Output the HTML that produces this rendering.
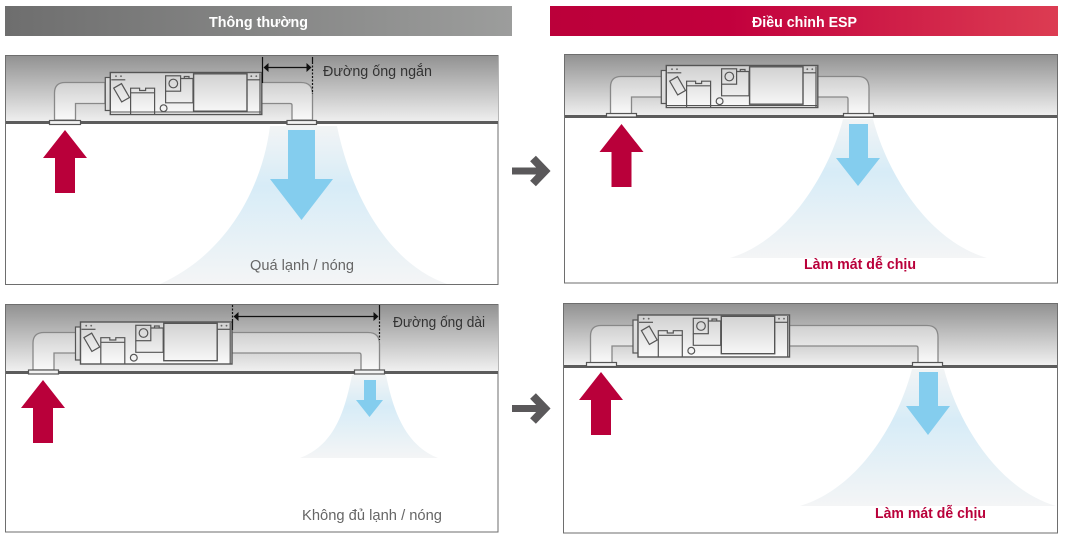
<!DOCTYPE html>
<html><head><meta charset="utf-8"><style>
html,body{margin:0;padding:0;background:#fff;width:1065px;height:543px;overflow:hidden}
svg{display:block}
text{font-family:"Liberation Sans","DejaVu Sans",sans-serif}
</style></head><body>
<svg width="1065" height="543" viewBox="0 0 1065 543" xmlns="http://www.w3.org/2000/svg">
<defs>
<linearGradient id="hg"><stop offset="0" stop-color="#6e6e6e"/><stop offset="1" stop-color="#9c9d9c"/></linearGradient>
<linearGradient id="hr"><stop offset="0" stop-color="#bb003a"/><stop offset=".35" stop-color="#c2003d"/><stop offset="1" stop-color="#dc3c52"/></linearGradient>
<linearGradient id="ceil" x1="0" y1="0" x2="0" y2="1"><stop offset="0" stop-color="#929292"/><stop offset="1" stop-color="#f0f0f0"/></linearGradient>
<linearGradient id="duct" x1="0" y1="0" x2="0" y2="1"><stop offset="0" stop-color="#d0d0d0"/><stop offset="1" stop-color="#fafafa"/></linearGradient>
<linearGradient id="fan" x1="0" y1="0" x2="0" y2="1"><stop offset="0" stop-color="#f2f4f5"/><stop offset=".38" stop-color="#d7ecf7"/><stop offset="1" stop-color="#f4f5f6"/></linearGradient>
<g id="unit" fill="none" stroke="#555" stroke-width="1.2">
<rect x="-5" y="5" width="5" height="33" fill="#ddd"/>
<rect x="0" y="0" width="151.5" height="42" fill="url(#duct)" stroke-width="1.4"/>
<path d="M1,7.3H15"/>
<circle cx="5.7" cy="3.7" r=".9" fill="#666" stroke="none"/><circle cx="10.7" cy="3.7" r=".9" fill="#666" stroke="none"/>
<rect x="-4.5" y="-8" width="9" height="16" transform="translate(11.3 20.3) rotate(-30)"/>
<path d="M20.3,42V15.7H29.3V18H35.3V15.7H44.3V42M20.3,20.3H44.3"/>
<circle cx="53.3" cy="35.7" r="3.4"/>
<rect x="55.3" y="3.3" width="15" height="15.4"/>
<circle cx="63" cy="11" r="4.3"/>
<path d="M70.3,6H82.7V30.3H55.3V18.7M74,6V4H78.7V6"/>
<rect x="83.3" y="1.3" width="53.4" height="37.4" stroke-width="1.4"/>
<path d="M136.7,7.3H150"/>
<path d="M149.7,1V42" />
<circle cx="141" cy="3.7" r=".9" fill="#666" stroke="none"/><circle cx="146" cy="3.7" r=".9" fill="#666" stroke="none"/>
</g>
<path id="up" d="M22,0L44,28H32V63H12V28H0Z" fill="#b9003a"/>
<g id="go" fill="none" stroke="#5a585a"><path d="M0,0H32" stroke-width="7"/><path d="M21,-12.5L33,0L21,12.5" stroke-width="8"/></g>
</defs>

<!-- headers -->
<rect x="5" y="6" width="507" height="30" fill="url(#hg)"/>
<rect x="550" y="6" width="508" height="30" fill="url(#hr)"/>
<text x="209" y="27" font-size="15" font-weight="700" fill="#fff" textLength="99" lengthAdjust="spacingAndGlyphs">Thông thường</text>
<text x="752" y="27" font-size="15" font-weight="700" fill="#fff" textLength="105" lengthAdjust="spacingAndGlyphs">Điều chỉnh ESP</text>

<!-- panel 1 -->
<rect x="5.5" y="55.5" width="492.5" height="229" fill="#fff" stroke="#6e6e6e"/>
<rect x="6" y="56" width="492" height="66" fill="url(#ceil)"/>
<path d="M270,126C262,190 225,255 160,284H447C385,262 350,190 337,126Z" fill="url(#fan)"/>
<path d="M54.5,120V93Q54.5,82.5 65,82.5H105V103.5H75.5V120Z" fill="url(#duct)" stroke="#888" stroke-width="1.3"/>
<path d="M261,82.5H301Q312.5,82.5 312.5,94V120H292V105Q292,103.5 290,103.5H261Z" fill="url(#duct)" stroke="#888" stroke-width="1.3"/>
<use href="#unit" x="110.3" y="72.5"/><path d="M111,112H261" stroke="#555"/>
<rect x="6" y="121" width="492" height="3" fill="#5c5c5c"/>
<rect x="49.5" y="120.5" width="31" height="4" fill="#f2f2f2" stroke="#555" stroke-width="1.2"/>
<rect x="287" y="120.5" width="29.5" height="4" fill="#f2f2f2" stroke="#555" stroke-width="1.2"/>
<use href="#up" x="43" y="130"/>
<path d="M288,130H315V179H333L301.5,220L270,179H288Z" fill="#84cdee"/>
<path d="M262.5,57V83M312.5,57V62" stroke="#111" stroke-width="1.2"/>
<path d="M312.5,62V94" stroke="#111" stroke-width="1.2" stroke-dasharray="2 1.5"/>
<path d="M266,67.5H309" stroke="#111" stroke-width="1.2"/>
<path d="M263.5,67.5L268.5,63V72ZM311.5,67.5L306.5,63V72Z" fill="#111"/>
<text x="323" y="76" font-size="15" fill="#333" textLength="109" lengthAdjust="spacingAndGlyphs">Đường ống ngắn</text>
<text x="250" y="270" font-size="15" fill="#666" textLength="104" lengthAdjust="spacingAndGlyphs">Quá lạnh / nóng</text>

<!-- panel 2 -->
<rect x="5.5" y="304.5" width="492.5" height="227.5" fill="#fff" stroke="#6e6e6e"/>
<rect x="6" y="305" width="492" height="66" fill="url(#ceil)"/>
<path d="M352,375C345,410 335,445 300,458H438C405,445 393,410 386,375Z" fill="url(#fan)"/>
<path d="M33,370V343Q33,332.5 44,332.5H76V353H54V370Z" fill="url(#duct)" stroke="#888" stroke-width="1.3"/>
<path d="M232,332.5H368Q379.5,332.5 379.5,344V370H361V355Q361,353 359,353H232Z" fill="url(#duct)" stroke="#888" stroke-width="1.3"/>
<use href="#unit" x="80.5" y="322"/>
<rect x="6" y="371" width="492" height="3" fill="#5c5c5c"/>
<rect x="28.5" y="370" width="30" height="4" fill="#f2f2f2" stroke="#555" stroke-width="1.2"/>
<rect x="354.5" y="370" width="30" height="4" fill="#f2f2f2" stroke="#555" stroke-width="1.2"/>
<use href="#up" x="21" y="380"/>
<path d="M364,380H376V400H383L369.5,417L356,400H364Z" fill="#84cdee"/>
<path d="M232.5,305V320M379.5,318V340" stroke="#111" stroke-width="1.2" stroke-dasharray="2 1.5"/>
<path d="M232.5,320V330M379.5,305V318" stroke="#111" stroke-width="1.2"/>
<path d="M236,316.5H376" stroke="#111" stroke-width="1.2"/>
<path d="M233.5,316.5L238.5,312V321ZM378.5,316.5L373.5,312V321Z" fill="#111"/>
<text x="393" y="327" font-size="15" fill="#333" textLength="92" lengthAdjust="spacingAndGlyphs">Đường ống dài</text>
<text x="302" y="520" font-size="15" fill="#666" textLength="140" lengthAdjust="spacingAndGlyphs">Không đủ lạnh / nóng</text>

<!-- panel 3 -->
<rect x="564.5" y="54.5" width="493" height="228.5" fill="#fff" stroke="#6e6e6e"/>
<rect x="565" y="55" width="492" height="61" fill="url(#ceil)"/>
<path d="M843,119C830,170 790,240 730,258H987C926,240 886,170 873,119Z" fill="url(#fan)"/>
<path d="M610.5,114V87Q610.5,76.5 621,76.5H662V97H631.5V114Z" fill="url(#duct)" stroke="#888" stroke-width="1.3"/>
<path d="M817,76.5H858Q869,76.5 869,88V114H848V99Q848,97 846,97H817Z" fill="url(#duct)" stroke="#888" stroke-width="1.3"/>
<use href="#unit" x="666.3" y="65.5"/><path d="M667,105.5H817" stroke="#555"/>
<rect x="565" y="115" width="492" height="3" fill="#5c5c5c"/>
<rect x="606.5" y="113.5" width="30" height="3.5" fill="#f2f2f2" stroke="#555" stroke-width="1.2"/>
<rect x="843.5" y="113.5" width="30" height="3.5" fill="#f2f2f2" stroke="#555" stroke-width="1.2"/>
<use href="#up" x="599.5" y="124"/>
<path d="M849,124H868V158H880L858,186L836,158H849Z" fill="#84cdee"/>
<text x="804" y="269" font-size="14.5" font-weight="700" fill="#b9003a" textLength="112" lengthAdjust="spacingAndGlyphs">Làm mát dễ chịu</text>

<!-- panel 4 -->
<rect x="563.5" y="303.5" width="494" height="229.5" fill="#fff" stroke="#6e6e6e"/>
<rect x="564" y="304" width="493" height="61" fill="url(#ceil)"/>
<path d="M912,369C899,420 860,488 800,506H1056C996,488 957,420 944,369Z" fill="url(#fan)"/>
<path d="M590.5,363V336Q590.5,325.5 601,325.5H634V346H612V363Z" fill="url(#duct)" stroke="#888" stroke-width="1.3"/>
<path d="M789,325.5H927Q938,325.5 938,337V363H918V348Q918,346 916,346H789Z" fill="url(#duct)" stroke="#888" stroke-width="1.3"/>
<use href="#unit" x="638" y="315"/>
<rect x="564" y="365" width="493" height="3" fill="#5c5c5c"/>
<rect x="586.5" y="362.5" width="30" height="4" fill="#f2f2f2" stroke="#555" stroke-width="1.2"/>
<rect x="912.5" y="362.5" width="30" height="4" fill="#f2f2f2" stroke="#555" stroke-width="1.2"/>
<use href="#up" x="579" y="372"/>
<path d="M919,372H938V406H950L928,435L906,406H919Z" fill="#84cdee"/>
<text x="875" y="518" font-size="14.5" font-weight="700" fill="#b9003a" textLength="111" lengthAdjust="spacingAndGlyphs">Làm mát dễ chịu</text>

<!-- go arrows -->
<use href="#go" x="512" y="171"/>
<use href="#go" x="512" y="408.5"/>
</svg>
</body></html>
